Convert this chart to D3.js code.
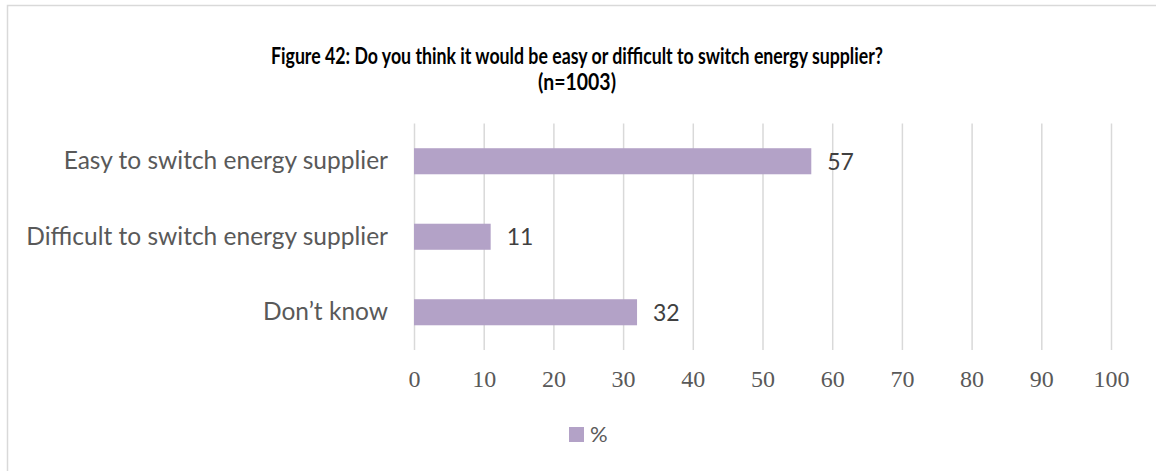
<!DOCTYPE html>
<html>
<head>
<meta charset="utf-8">
<script src="https://cdn.jsdelivr.net/npm/d3@7"></script>
<style>
  html, body { margin: 0; padding: 0; background: #ffffff; }
  svg { display: block; }
</style>
</head>
<body>
<svg id="chart" width="1156" height="471"></svg>
<script>
// Survey answers: share of respondents (%)
const categories = [
  "Easy to switch energy supplier",
  "Difficult to switch energy supplier",
  "Don\u2019t know"
];
const values = [57, 11, 32];
const tickValues = [0, 10, 20, 30, 40, 50, 60, 70, 80, 90, 100];
const titleLines = [
  "Figure 42: Do you think it would be easy or difficult to switch energy supplier?",
  "(n=1003)"
];
const seriesName = "%";

const W = 1156, H = 471;
const barColor = "#b3a2c7";
const textColor = "#595959";
const gridColor = "#d9d9d9";
const sansFont = "Lato, 'Open Sans', sans-serif";
const serifFont = "'Liberation Serif', 'DejaVu Serif', serif";

const svg = d3.select("#chart");

// Chart frame
svg.append("rect")
  .attr("x", 7.5).attr("y", 5.5)
  .attr("width", W + 20).attr("height", H + 20)
  .attr("fill", "#ffffff")
  .attr("stroke", gridColor)
  .attr("stroke-width", 1.5);

// Title (narrow bold face: glyphs squeezed to a fixed line width)
const titleWidths = [612, 78];
titleLines.forEach((line, i) => {
  svg.append("text")
    .attr("x", 577)
    .attr("y", 64 + i * 26)
    .attr("text-anchor", "middle")
    .attr("font-family", sansFont)
    .attr("font-weight", "bold")
    .attr("font-size", 22.5)
    .attr("fill", "#000000")
    .attr("textLength", titleWidths[i])
    .attr("lengthAdjust", "spacingAndGlyphs")
    .text(line);
});

// Scales
const x = d3.scaleLinear().domain([0, 100]).range([414, 1111]);
const y = d3.scaleBand()
  .domain(categories)
  .range([123.5, 350])
  .paddingInner(0.655)
  .paddingOuter(0.3275);

// Vertical gridlines with numeric labels below
const xAxis = d3.axisBottom(x)
  .tickValues(tickValues)
  .tickSize(350 - 123.5)
  .tickPadding(20)
  .tickFormat(d3.format("d"));

const gx = svg.append("g")
  .attr("transform", "translate(0,123.5)")
  .call(xAxis);
gx.select(".domain").remove();
gx.selectAll(".tick line")
  .attr("stroke", gridColor)
  .attr("stroke-width", 1.5);
gx.selectAll(".tick text")
  .attr("fill", textColor)
  .attr("font-family", serifFont)
  .attr("font-size", 24);

// Category labels
const yAxis = d3.axisLeft(y).tickSize(0).tickPadding(26);
const gy = svg.append("g")
  .attr("transform", `translate(${x(0)},0)`)
  .call(yAxis);
gy.select(".domain").remove();
gy.selectAll(".tick text")
  .attr("fill", textColor)
  .attr("font-family", sansFont)
  .attr("font-size", 24.5);

// Bars
svg.append("g").selectAll("rect")
  .data(categories)
  .join("rect")
  .attr("x", x(0))
  .attr("y", d => y(d))
  .attr("width", (d, i) => x(values[i]) - x(0))
  .attr("height", y.bandwidth())
  .attr("fill", barColor);

// Value labels
svg.append("g").selectAll("text")
  .data(categories)
  .join("text")
  .attr("x", (d, i) => x(values[i]) + 16)
  .attr("y", d => y(d) + y.bandwidth() / 2)
  .attr("dy", "0.36em")
  .attr("font-family", sansFont)
  .attr("font-size", 23)
  .attr("fill", "#404040")
  .text((d, i) => values[i]);

// Legend
const legend = svg.append("g").attr("transform", "translate(569,427)");
legend.append("rect")
  .attr("width", 15).attr("height", 15)
  .attr("fill", barColor);
legend.append("text")
  .attr("x", 21).attr("y", 7.5)
  .attr("dy", "0.36em")
  .attr("font-family", sansFont)
  .attr("font-size", 22)
  .attr("fill", textColor)
  .text(seriesName);
</script>
</body>
</html>
